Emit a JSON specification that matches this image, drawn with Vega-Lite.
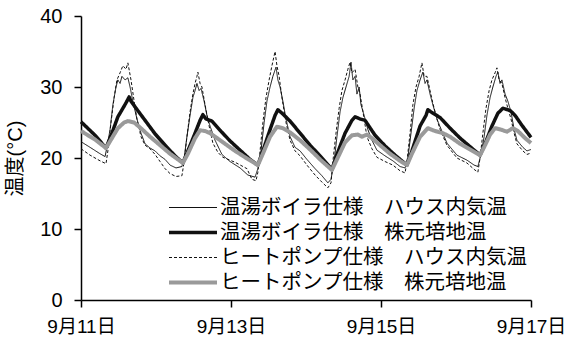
{
  "$schema": "https://vega.github.io/schema/vega-lite/v6.json",
  "width": 450,
  "height": 284,
  "autosize": "none",
  "padding": {"left": 81, "top": 16, "right": 36, "bottom": 42},
  "background": "white",
  "config": {
    "view": {"stroke": null},
    "font": "Liberation Sans, Noto Sans CJK JP",
    "axis": {"labelFont": "Liberation Sans, Noto Sans CJK JP", "titleFont": "Liberation Sans, Noto Sans CJK JP"},
    "legend": {"labelFont": "Liberation Sans, Noto Sans CJK JP"}
  },
  "datasets": {
    "names": [
      {"s": "a", "name": "温湯ボイラ仕様　ハウス内気温"},
      {"s": "b", "name": "温湯ボイラ仕様　株元培地温"},
      {"s": "c", "name": "ヒートポンプ仕様　ハウス内気温"},
      {"s": "d", "name": "ヒートポンプ仕様　株元培地温"}
    ],
    "temps": [
      {"s":"a","t":0.0,"v":22.3},{"s":"a","t":2.9,"v":21.5},{"s":"a","t":6.1,"v":20.6},{"s":"a","t":7.7,"v":20.2},{"s":"a","t":8.3,"v":21.5},{"s":"a","t":9.3,"v":24.0},{"s":"a","t":10.2,"v":27.5},{"s":"a","t":11.2,"v":30.0},{"s":"a","t":11.8,"v":31.0},{"s":"a","t":12.5,"v":30.5},{"s":"a","t":13.1,"v":31.5},{"s":"a","t":14.1,"v":31.0},{"s":"a","t":15.0,"v":31.3},{"s":"a","t":15.7,"v":30.0},{"s":"a","t":16.6,"v":28.0},{"s":"a","t":17.9,"v":25.5},{"s":"a","t":19.2,"v":23.5},{"s":"a","t":20.5,"v":22.0},{"s":"a","t":22.1,"v":21.4},{"s":"a","t":23.7,"v":21.0},{"s":"a","t":25.3,"v":20.3},{"s":"a","t":26.9,"v":19.8},{"s":"a","t":28.5,"v":19.0},{"s":"a","t":30.4,"v":18.6},{"s":"a","t":32.3,"v":18.8},
      {"s":"a","t":33.0,"v":20.0},{"s":"a","t":33.9,"v":23.0},{"s":"a","t":34.9,"v":26.0},{"s":"a","t":35.8,"v":28.5},{"s":"a","t":36.5,"v":29.5},{"s":"a","t":37.1,"v":30.5},{"s":"a","t":37.8,"v":29.5},{"s":"a","t":38.4,"v":29.8},{"s":"a","t":39.4,"v":28.0},{"s":"a","t":40.3,"v":26.0},{"s":"a","t":41.3,"v":24.5},{"s":"a","t":42.9,"v":22.5},{"s":"a","t":45.1,"v":20.5},{"s":"a","t":47.7,"v":19.5},{"s":"a","t":50.9,"v":18.6},{"s":"a","t":53.4,"v":17.6},{"s":"a","t":55.7,"v":17.3},{"s":"a","t":56.6,"v":18.5},
      {"s":"a","t":57.6,"v":21.0},{"s":"a","t":58.6,"v":25.0},{"s":"a","t":59.5,"v":28.0},{"s":"a","t":60.5,"v":30.0},{"s":"a","t":61.4,"v":31.5},{"s":"a","t":62.4,"v":32.8},{"s":"a","t":63.0,"v":31.0},{"s":"a","t":63.7,"v":30.0},{"s":"a","t":64.6,"v":28.0},{"s":"a","t":65.6,"v":25.5},{"s":"a","t":66.9,"v":23.0},{"s":"a","t":68.5,"v":21.5},{"s":"a","t":70.1,"v":21.0},{"s":"a","t":72.3,"v":19.8},{"s":"a","t":74.9,"v":18.5},{"s":"a","t":77.1,"v":17.5},{"s":"a","t":79.0,"v":16.5},{"s":"a","t":80.0,"v":17.0},
      {"s":"a","t":81.0,"v":19.5},{"s":"a","t":81.9,"v":23.0},{"s":"a","t":82.9,"v":26.5},{"s":"a","t":83.8,"v":28.5},{"s":"a","t":84.8,"v":30.0},{"s":"a","t":85.8,"v":31.5},{"s":"a","t":86.4,"v":33.5},{"s":"a","t":87.0,"v":31.0},{"s":"a","t":87.7,"v":31.5},{"s":"a","t":88.3,"v":29.0},{"s":"a","t":89.0,"v":30.0},{"s":"a","t":89.6,"v":27.5},{"s":"a","t":90.6,"v":26.0},{"s":"a","t":91.8,"v":24.0},{"s":"a","t":93.1,"v":22.5},{"s":"a","t":94.7,"v":21.1},{"s":"a","t":97.3,"v":20.3},{"s":"a","t":99.8,"v":19.6},{"s":"a","t":102.1,"v":18.8},{"s":"a","t":103.7,"v":18.6},
      {"s":"a","t":104.6,"v":20.0},{"s":"a","t":105.6,"v":23.5},{"s":"a","t":106.6,"v":27.0},{"s":"a","t":107.5,"v":29.5},{"s":"a","t":108.5,"v":31.0},{"s":"a","t":109.4,"v":32.1},{"s":"a","t":110.1,"v":30.5},{"s":"a","t":110.7,"v":31.0},{"s":"a","t":111.7,"v":29.0},{"s":"a","t":112.6,"v":27.5},{"s":"a","t":113.9,"v":25.5},{"s":"a","t":114.9,"v":24.4},{"s":"a","t":117.1,"v":22.1},{"s":"a","t":120.3,"v":20.4},{"s":"a","t":123.5,"v":19.7},{"s":"a","t":125.8,"v":19.0},{"s":"a","t":127.0,"v":18.8},
      {"s":"a","t":128.0,"v":20.5},{"s":"a","t":129.0,"v":23.0},{"s":"a","t":129.9,"v":26.0},{"s":"a","t":130.9,"v":28.5},{"s":"a","t":131.8,"v":30.0},{"s":"a","t":132.8,"v":31.5},{"s":"a","t":133.4,"v":32.1},{"s":"a","t":134.1,"v":30.5},{"s":"a","t":134.7,"v":31.0},{"s":"a","t":135.7,"v":29.0},{"s":"a","t":136.6,"v":28.0},{"s":"a","t":137.6,"v":26.5},{"s":"a","t":138.6,"v":24.0},{"s":"a","t":139.5,"v":22.5},{"s":"a","t":141.4,"v":21.5},{"s":"a","t":142.7,"v":21.0},{"s":"a","t":144.0,"v":21.2},

      {"s":"b","t":0.0,"v":25.1},{"s":"b","t":4.5,"v":23.2},{"s":"b","t":8.0,"v":21.4},{"s":"b","t":9.9,"v":23.5},{"s":"b","t":11.8,"v":25.8},{"s":"b","t":13.8,"v":27.3},{"s":"b","t":14.7,"v":28.0},{"s":"b","t":15.4,"v":28.6},{"s":"b","t":16.0,"v":28.0},{"s":"b","t":17.3,"v":27.2},{"s":"b","t":20.5,"v":25.3},{"s":"b","t":23.7,"v":23.4},{"s":"b","t":26.9,"v":21.8},{"s":"b","t":30.1,"v":20.3},{"s":"b","t":32.6,"v":19.3},
      {"s":"b","t":34.2,"v":21.0},{"s":"b","t":36.5,"v":23.5},{"s":"b","t":38.1,"v":25.3},{"s":"b","t":39.0,"v":26.1},{"s":"b","t":40.0,"v":25.5},{"s":"b","t":41.9,"v":25.2},{"s":"b","t":44.5,"v":23.9},{"s":"b","t":47.7,"v":22.4},{"s":"b","t":50.9,"v":21.1},{"s":"b","t":54.1,"v":19.8},{"s":"b","t":56.6,"v":19.0},
      {"s":"b","t":58.2,"v":21.0},{"s":"b","t":60.5,"v":24.0},{"s":"b","t":62.1,"v":26.0},{"s":"b","t":63.0,"v":26.8},{"s":"b","t":64.6,"v":26.2},{"s":"b","t":66.9,"v":25.2},{"s":"b","t":70.1,"v":23.5},{"s":"b","t":73.3,"v":21.8},{"s":"b","t":76.5,"v":20.3},{"s":"b","t":80.3,"v":18.4},
      {"s":"b","t":81.9,"v":20.5},{"s":"b","t":84.5,"v":23.5},{"s":"b","t":86.7,"v":25.3},{"s":"b","t":87.7,"v":25.8},{"s":"b","t":89.3,"v":25.5},{"s":"b","t":90.9,"v":25.3},{"s":"b","t":94.1,"v":23.2},{"s":"b","t":97.3,"v":21.7},{"s":"b","t":100.5,"v":20.4},{"s":"b","t":104.3,"v":19.0},
      {"s":"b","t":105.9,"v":21.0},{"s":"b","t":108.5,"v":24.5},{"s":"b","t":110.4,"v":26.0},{"s":"b","t":111.0,"v":26.8},{"s":"b","t":112.3,"v":26.4},{"s":"b","t":114.9,"v":25.7},{"s":"b","t":118.1,"v":24.2},{"s":"b","t":121.3,"v":22.8},{"s":"b","t":124.5,"v":21.6},{"s":"b","t":127.7,"v":20.4},
      {"s":"b","t":129.3,"v":22.0},{"s":"b","t":131.5,"v":24.5},{"s":"b","t":133.4,"v":26.3},{"s":"b","t":135.0,"v":27.0},{"s":"b","t":137.3,"v":26.7},{"s":"b","t":138.9,"v":26.0},{"s":"b","t":141.1,"v":24.6},{"s":"b","t":144.0,"v":22.9},

      {"s":"c","t":0.0,"v":21.3},{"s":"c","t":2.9,"v":20.4},{"s":"c","t":6.1,"v":19.6},{"s":"c","t":8.0,"v":19.2},{"s":"c","t":8.6,"v":21.0},{"s":"c","t":9.6,"v":25.0},{"s":"c","t":10.6,"v":28.5},{"s":"c","t":11.5,"v":31.0},{"s":"c","t":12.5,"v":32.0},{"s":"c","t":13.4,"v":33.0},{"s":"c","t":14.4,"v":32.5},{"s":"c","t":15.0,"v":33.4},{"s":"c","t":16.0,"v":31.0},{"s":"c","t":17.0,"v":28.0},{"s":"c","t":17.9,"v":25.5},{"s":"c","t":19.2,"v":23.0},{"s":"c","t":20.5,"v":21.8},{"s":"c","t":22.1,"v":21.3},{"s":"c","t":23.7,"v":20.5},{"s":"c","t":25.3,"v":19.5},{"s":"c","t":26.9,"v":18.5},{"s":"c","t":28.5,"v":17.8},{"s":"c","t":30.4,"v":17.4},{"s":"c","t":32.3,"v":17.5},
      {"s":"c","t":33.0,"v":19.5},{"s":"c","t":33.9,"v":23.0},{"s":"c","t":34.9,"v":26.5},{"s":"c","t":35.8,"v":29.0},{"s":"c","t":36.5,"v":30.5},{"s":"c","t":37.1,"v":31.5},{"s":"c","t":37.4,"v":32.1},{"s":"c","t":38.1,"v":30.5},{"s":"c","t":38.7,"v":30.0},{"s":"c","t":39.7,"v":27.5},{"s":"c","t":41.0,"v":24.5},{"s":"c","t":42.2,"v":22.1},{"s":"c","t":43.8,"v":20.8},{"s":"c","t":45.4,"v":20.1},{"s":"c","t":49.3,"v":19.4},{"s":"c","t":53.1,"v":18.5},{"s":"c","t":54.7,"v":17.0},{"s":"c","t":56.0,"v":16.8},{"s":"c","t":56.6,"v":18.0},
      {"s":"c","t":57.3,"v":21.0},{"s":"c","t":58.2,"v":25.0},{"s":"c","t":59.2,"v":28.5},{"s":"c","t":60.2,"v":31.0},{"s":"c","t":61.1,"v":33.0},{"s":"c","t":62.1,"v":35.0},{"s":"c","t":62.7,"v":33.0},{"s":"c","t":63.4,"v":31.5},{"s":"c","t":64.3,"v":28.5},{"s":"c","t":65.6,"v":25.0},{"s":"c","t":66.9,"v":22.5},{"s":"c","t":68.5,"v":21.0},{"s":"c","t":70.1,"v":20.3},{"s":"c","t":72.3,"v":19.0},{"s":"c","t":74.9,"v":17.6},{"s":"c","t":77.1,"v":16.6},{"s":"c","t":79.0,"v":15.8},{"s":"c","t":80.0,"v":16.5},
      {"s":"c","t":80.6,"v":19.5},{"s":"c","t":81.6,"v":23.5},{"s":"c","t":82.6,"v":27.0},{"s":"c","t":83.5,"v":29.5},{"s":"c","t":84.5,"v":31.0},{"s":"c","t":85.4,"v":32.5},{"s":"c","t":86.1,"v":33.5},{"s":"c","t":86.7,"v":32.0},{"s":"c","t":87.7,"v":32.5},{"s":"c","t":88.6,"v":30.0},{"s":"c","t":89.3,"v":29.0},{"s":"c","t":90.6,"v":25.5},{"s":"c","t":91.5,"v":23.0},{"s":"c","t":93.1,"v":21.3},{"s":"c","t":94.7,"v":20.1},{"s":"c","t":97.3,"v":19.5},{"s":"c","t":99.8,"v":19.0},{"s":"c","t":102.1,"v":18.2},{"s":"c","t":103.7,"v":17.9},
      {"s":"c","t":104.3,"v":19.5},{"s":"c","t":105.3,"v":23.5},{"s":"c","t":106.2,"v":27.5},{"s":"c","t":107.2,"v":30.0},{"s":"c","t":108.2,"v":31.5},{"s":"c","t":109.1,"v":33.4},{"s":"c","t":109.8,"v":31.5},{"s":"c","t":110.7,"v":31.5},{"s":"c","t":111.7,"v":29.5},{"s":"c","t":112.6,"v":27.7},{"s":"c","t":113.9,"v":25.5},{"s":"c","t":114.9,"v":24.0},{"s":"c","t":117.1,"v":21.8},{"s":"c","t":120.3,"v":20.0},{"s":"c","t":123.5,"v":19.3},{"s":"c","t":125.8,"v":18.4},{"s":"c","t":127.0,"v":18.0},
      {"s":"c","t":127.7,"v":20.0},{"s":"c","t":128.6,"v":23.5},{"s":"c","t":129.6,"v":27.0},{"s":"c","t":130.6,"v":29.5},{"s":"c","t":131.5,"v":31.0},{"s":"c","t":132.5,"v":32.0},{"s":"c","t":133.1,"v":32.7},{"s":"c","t":133.8,"v":31.0},{"s":"c","t":134.7,"v":30.5},{"s":"c","t":135.7,"v":28.5},{"s":"c","t":136.6,"v":27.0},{"s":"c","t":137.6,"v":25.5},{"s":"c","t":138.6,"v":23.5},{"s":"c","t":139.5,"v":22.0},{"s":"c","t":141.4,"v":21.0},{"s":"c","t":142.7,"v":20.5},{"s":"c","t":144.0,"v":20.7},

      {"s":"d","t":0.0,"v":23.8},{"s":"d","t":4.5,"v":22.6},{"s":"d","t":8.0,"v":21.4},{"s":"d","t":9.9,"v":22.8},{"s":"d","t":11.8,"v":24.2},{"s":"d","t":13.8,"v":25.0},{"s":"d","t":15.0,"v":25.2},{"s":"d","t":17.0,"v":25.0},{"s":"d","t":18.9,"v":24.3},{"s":"d","t":22.1,"v":23.0},{"s":"d","t":25.3,"v":21.8},{"s":"d","t":28.5,"v":20.6},{"s":"d","t":32.6,"v":19.3},
      {"s":"d","t":34.2,"v":20.6},{"s":"d","t":36.5,"v":22.8},{"s":"d","t":38.1,"v":23.9},{"s":"d","t":39.7,"v":23.8},{"s":"d","t":41.3,"v":23.5},{"s":"d","t":42.9,"v":23.0},{"s":"d","t":46.1,"v":22.0},{"s":"d","t":49.3,"v":21.0},{"s":"d","t":52.5,"v":20.1},{"s":"d","t":56.6,"v":19.0},
      {"s":"d","t":58.2,"v":20.6},{"s":"d","t":60.5,"v":23.0},{"s":"d","t":62.7,"v":24.4},{"s":"d","t":64.6,"v":24.2},{"s":"d","t":66.9,"v":23.6},{"s":"d","t":70.1,"v":22.5},{"s":"d","t":73.3,"v":21.2},{"s":"d","t":76.5,"v":19.8},{"s":"d","t":80.3,"v":18.3},
      {"s":"d","t":81.9,"v":19.8},{"s":"d","t":84.5,"v":22.2},{"s":"d","t":86.7,"v":23.2},{"s":"d","t":88.6,"v":23.3},{"s":"d","t":89.9,"v":23.0},{"s":"d","t":91.5,"v":23.3},{"s":"d","t":93.1,"v":22.8},{"s":"d","t":95.7,"v":21.8},{"s":"d","t":98.9,"v":20.6},{"s":"d","t":102.1,"v":19.6},{"s":"d","t":104.3,"v":19.0},
      {"s":"d","t":105.9,"v":20.6},{"s":"d","t":108.5,"v":23.0},{"s":"d","t":111.0,"v":24.2},{"s":"d","t":113.3,"v":23.8},{"s":"d","t":115.8,"v":23.5},{"s":"d","t":118.1,"v":23.0},{"s":"d","t":121.3,"v":22.0},{"s":"d","t":124.5,"v":21.2},{"s":"d","t":127.7,"v":20.4},
      {"s":"d","t":129.3,"v":21.8},{"s":"d","t":130.9,"v":23.3},{"s":"d","t":132.5,"v":24.2},{"s":"d","t":134.4,"v":24.0},{"s":"d","t":136.3,"v":23.7},{"s":"d","t":138.2,"v":24.2},{"s":"d","t":139.8,"v":23.8},{"s":"d","t":142.1,"v":22.8},{"s":"d","t":144.0,"v":22.1}
    ]
  },
  "data": {"name": "temps"},
  "transform": [
    {"lookup": "s", "from": {"data": {"name": "names"}, "key": "s", "fields": ["name"]}}
  ],
  "mark": {"type": "line", "strokeJoin": "round"},
  "encoding": {
    "x": {
      "field": "t", "type": "quantitative",
      "scale": {"domain": [0, 144], "nice": false, "zero": false},
      "axis": {
        "values": [0, 48, 96, 144],
        "labelExpr": "'9月' + (11 + datum.value / 24) + '日'",
        "labelFlush": false, "labelOverlap": false,
        "title": null, "grid": false,
        "domainColor": "black", "domainWidth": 1.5,
        "tickColor": "black", "tickWidth": 1.5, "tickSize": 7,
        "labelColor": "black", "labelFontSize": 19, "labelPadding": 10
      }
    },
    "y": {
      "field": "v", "type": "quantitative",
      "scale": {"domain": [0, 40], "nice": false},
      "axis": {
        "values": [0, 10, 20, 30, 40],
        "title": "温度(°C)", "titleFontSize": 20, "titleFontWeight": "normal", "titleColor": "black", "titlePadding": 14,
        "grid": false,
        "domainColor": "black", "domainWidth": 1.5,
        "tickColor": "black", "tickWidth": 1.5, "tickSize": 7,
        "labelColor": "black", "labelFontSize": 20, "labelPadding": 12
      }
    },
    "color": {
      "field": "name", "type": "nominal",
      "scale": {
        "type": "ordinal",
        "domain": ["温湯ボイラ仕様　ハウス内気温", "温湯ボイラ仕様　株元培地温", "ヒートポンプ仕様　ハウス内気温", "ヒートポンプ仕様　株元培地温"],
        "range": ["#111111", "#111111", "#111111", "#9a9a9a"]
      },
      "legend": {
        "title": null, "orient": "none", "legendX": 86, "legendY": 179,
        "symbolType": "stroke", "symbolSize": 2304, "clipHeight": 25,
        "labelFontSize": 20.5, "labelColor": "black", "labelOffset": 1, "labelLimit": 400,
        "rowPadding": 0, "padding": 0
      }
    },
    "strokeWidth": {
      "field": "name", "type": "nominal",
      "scale": {
        "type": "ordinal",
        "domain": ["温湯ボイラ仕様　ハウス内気温", "温湯ボイラ仕様　株元培地温", "ヒートポンプ仕様　ハウス内気温", "ヒートポンプ仕様　株元培地温"],
        "range": [1, 3.5, 1, 4]
      }
    },
    "strokeDash": {
      "field": "name", "type": "nominal",
      "scale": {
        "type": "ordinal",
        "domain": ["温湯ボイラ仕様　ハウス内気温", "温湯ボイラ仕様　株元培地温", "ヒートポンプ仕様　ハウス内気温", "ヒートポンプ仕様　株元培地温"],
        "range": [[1, 0], [1, 0], [3, 2], [1, 0]]
      }
    }
  }
}
